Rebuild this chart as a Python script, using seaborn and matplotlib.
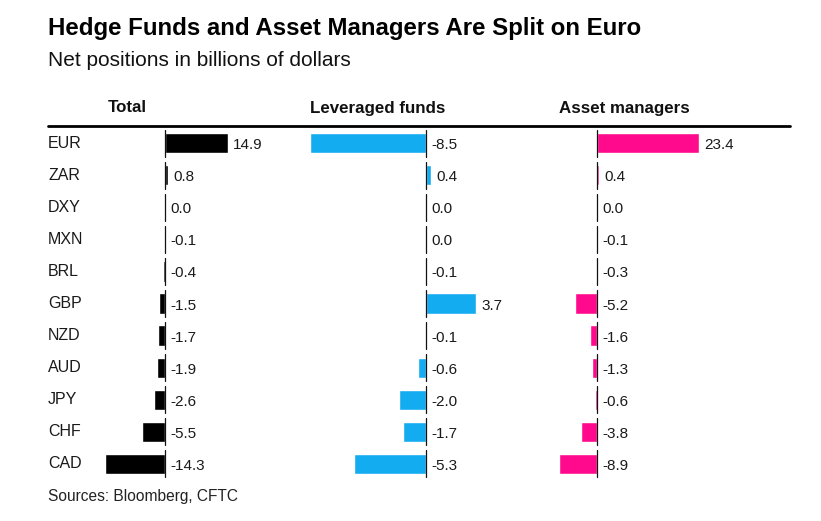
import pandas as pd
import seaborn as sns
import matplotlib.pyplot as plt
from matplotlib import transforms
from matplotlib.lines import Line2D

# data (net positions, $bn)
currencies = ['EUR', 'ZAR', 'DXY', 'MXN', 'BRL', 'GBP', 'NZD', 'AUD', 'JPY', 'CHF', 'CAD']
total = [14.9, 0.8, 0.0, -0.1, -0.4, -1.5, -1.7, -1.9, -2.6, -5.5, -14.3]
leveraged = [-8.5, 0.4, 0.0, 0.0, -0.1, 3.7, -0.1, -0.6, -2.0, -1.7, -5.3]
asset_mgrs = [23.4, 0.4, 0.0, -0.1, -0.3, -5.2, -1.6, -1.3, -0.6, -3.8, -8.9]

panels = ['Total', 'Leveraged funds', 'Asset managers']
series = [total, leveraged, asset_mgrs]
colors = ['#000000', '#14acf0', '#ff0a8c']

sns.set_theme(style='white')
plt.rcParams['font.family'] = ['Liberation Sans', 'DejaVu Sans']

W, H = 821, 521
fig = plt.figure(figsize=(W / 100, H / 100), dpi=100)

# axes extents in pixels (left, right) and x-limits for each panel
ax_px = [(100, 300), (305, 545), (550, 790)]
xlims = [(-15.5, 32.1), (-8.9, 8.75), (-10.9, 44.3)]
header_x = [127, 378, 624]

y_top, y_bot = 127, 480
rows = range(len(currencies))
for k, (name, vals, col) in enumerate(zip(panels, series, colors)):
    l, r = ax_px[k]
    ax = fig.add_axes([l / W, 1 - y_bot / H, (r - l) / W, (y_bot - y_top) / H])
    df = pd.DataFrame({'currency': currencies, 'value': vals})
    sns.barplot(data=df, x='value', y='currency', color=col, saturation=1,
                width=0.63, ax=ax)
    ax.set_xlim(*xlims[k])
    ax.set_ylim(len(currencies) - 0.5, -0.5)
    for i in rows:
        ax.plot([0, 0], [i - 0.42, i + 0.42], color='#111111', lw=0.9)
    for i, v in enumerate(vals):
        ax.annotate(f'{v:.1f}', xy=(max(v, 0), i), xytext=(3.5, -1.5),
                    textcoords='offset points', va='center', ha='left',
                    fontsize=11, color='#1a1a1a')
    ax.axis('off')
    fig.text(header_x[k] / W, 1 - 108 / H, name, ha='center', va='center',
             fontsize=12.2, fontweight='bold', color='#111111')
    if k == 0:
        tr = transforms.blended_transform_factory(fig.transFigure, ax.transData)
        for i, c in enumerate(currencies):
            ax.text(48 / W, i, c, transform=tr, ha='left', va='center',
                    fontsize=11.5, color='#1a1a1a')

fig.add_artist(Line2D([48 / W, 790 / W], [1 - 126 / H, 1 - 126 / H],
                      color='black', lw=2, transform=fig.transFigure))

fig.text(48 / W, 1 - 29 / H, 'Hedge Funds and Asset Managers Are Split on Euro',
         ha='left', va='center', fontsize=17.3, fontweight='bold', color='black')
fig.text(48 / W, 1 - 61 / H, 'Net positions in billions of dollars',
         ha='left', va='center', fontsize=15, color='#111111')
fig.text(48 / W, 1 - 497 / H, 'Sources: Bloomberg, CFTC',
         ha='left', va='center', fontsize=11.2, color='#222222')

fig.savefig('out.png', dpi=100, facecolor='white')
